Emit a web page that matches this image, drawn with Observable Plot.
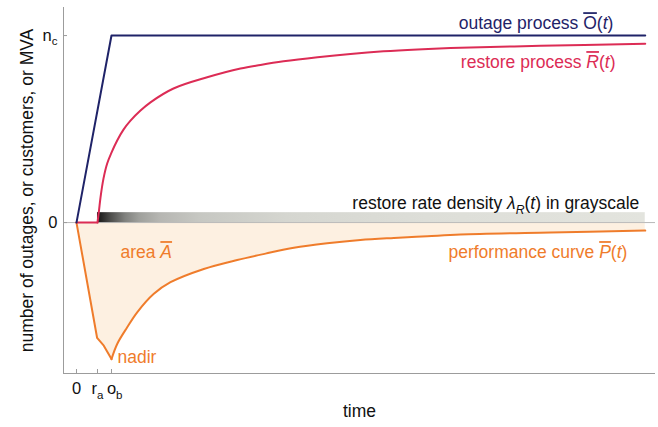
<!DOCTYPE html>
<html><head><meta charset="utf-8">
<script src="https://cdn.jsdelivr.net/npm/d3@7"></script>
<script src="https://cdn.jsdelivr.net/npm/@observablehq/plot@0.6"></script>
<style>body{margin:0;background:#fff}</style>
</head><body><div id="chart"></div>
<script>
// ---- data (time in units where o_b = 1; values in units of n_c) ----
const outageT = [0, 1, 16.25];
const outageV = [0, 1, 1];

const restoreFlatT = [0, 0.6];
const restoreFlatV = [0, 0];
const restoreT = [0.6, 0.643, 0.686, 0.771, 0.877, 1.0, 1.163, 1.343, 1.543, 1.829, 2.114, 2.771, 3.734, 4.686, 5.257, 5.914, 6.886, 7.829, 8.771, 9.743, 10.686, 13.257, 16.25];
const restoreV = [0, 0.064, 0.134, 0.235, 0.316, 0.374, 0.439, 0.497, 0.545, 0.599, 0.643, 0.717, 0.777, 0.824, 0.843, 0.862, 0.884, 0.902, 0.916, 0.926, 0.933, 0.945, 0.956];

const perfDropT = [0, 0.59, 0.78, 1];
const perfDropV = [0, -0.617, -0.658, -0.73];
const perfRecT = [1, 1.163, 1.449, 1.734, 2.21, 2.686, 3.637, 4.591, 5.4, 6.21, 7.16, 8.11, 9.07, 10.02, 10.97, 13.54, 16.25];
const perfRecV = [-0.73, -0.649, -0.56, -0.48, -0.381, -0.319, -0.248, -0.2, -0.166, -0.135, -0.111, -0.093, -0.082, -0.073, -0.064, -0.053, -0.043];

const lambdaT = [0.6, 0.75, 1.0, 1.4, 1.8, 2.4, 3.5, 6, 10, 16.25];
const lambdaV = [1, 0.9, 0.72, 0.48, 0.33, 0.22, 0.14, 0.07, 0.03, 0];

const xTickVals = [0, 0.6, 1];
const xTickLabels = ["0", "r_{a}", "o_{b}"];
const yTickVals = [0, 1];
const yTickLabels = ["0", "n_{c}"];

const labelOutage = "outage process ~{O}(*{t})";
const labelRestore = "restore process ~*{R}(*{t})";
const labelDensity = "restore rate density *{λ}*_{R}(*{t}) in grayscale";
const labelPerf = "performance curve ~*{P}(*{t})";
const labelArea = "area ~*{A}";
const labelNadir = "nadir";
const labelX = "time";
const labelY = "number of outages, or customers, or MVA";

// ---- tables ----
const zip = (T, V) => T.map((t, i) => ({t, v: V[i]}));
const outage = zip(outageT, outageV);
const restoreFlat = zip(restoreFlatT, restoreFlatV);
const restore = zip(restoreT, restoreV);
const perfDrop = zip(perfDropT, perfDropV);
const perfRec = zip(perfRecT, perfRecV);
const xLab = new Map(xTickVals.map((d, i) => [d, xTickLabels[i]]));
const yLab = new Map(yTickVals.map((d, i) => [d, yTickLabels[i]]));

const navy = "#1f2368", crimson = "#dc2c55", orange = "#ef7c2b", fillA = "#fdf0e1", axisGray = "#9c9c9c";
const xDomain = [-0.371, 16.543];
const yDomain = [-0.807, 1.15];

const plot = Plot.plot({
  width: 658, height: 427,
  marginLeft: 63, marginRight: 3, marginTop: 7, marginBottom: 54,
  x: {domain: xDomain, axis: null},
  y: {domain: yDomain, axis: null},
  style: {fontFamily: "'Liberation Sans', Arial, sans-serif", fontSize: "17.5px", background: "#fff", color: "#111"},
  marks: [
    Plot.areaY(perfDrop, {x: "t", y1: 0, y2: "v", fill: fillA, curve: "linear"}),
    Plot.areaY(perfRec, {x: "t", y1: 0, y2: "v", fill: fillA, curve: "catmull-rom"}),
    Plot.ruleY([0], {stroke: "#b8b8b8", strokeWidth: 1}),
    Plot.rect([{x1: lambdaT[0], x2: lambdaT[lambdaT.length - 1]}], {x1: "x1", x2: "x2", y1: 0, y2: 0.053, fill: "url(#lambdaGrad)"}),
    Plot.ruleX([xDomain[0]], {stroke: axisGray}),
    Plot.ruleY([yDomain[0]], {stroke: axisGray}),
    Plot.tickX(xTickVals, {x: d => d, stroke: axisGray, insetTop: 362}),
    Plot.tickY(yTickVals, {y: d => d, stroke: axisGray, insetRight: 588}),
    Plot.axisX({ticks: xTickVals, tickFormat: d => xLab.get(d), tickSize: 0, tickPadding: 9, label: null, fontSize: "16.5px"}),
    Plot.axisY({ticks: yTickVals, tickFormat: d => yLab.get(d), tickSize: 0, tickPadding: 6, label: null, fontSize: "16.5px"}),
    Plot.line(perfDrop, {x: "t", y: "v", stroke: orange, strokeWidth: 2, curve: "linear"}),
    Plot.line(perfRec, {x: "t", y: "v", stroke: orange, strokeWidth: 2, curve: "catmull-rom"}),
    Plot.line(restoreFlat, {x: "t", y: "v", stroke: crimson, strokeWidth: 2}),
    Plot.line(restore, {x: "t", y: "v", stroke: crimson, strokeWidth: 2, curve: "catmull-rom"}),
    Plot.line(outage, {x: "t", y: "v", stroke: navy, strokeWidth: 2}),
    Plot.text([labelOutage], {x: 15.34, y: 1.064, textAnchor: "end", fill: navy}),
    Plot.text([labelRestore], {x: 15.4, y: 0.856, textAnchor: "end", fill: crimson}),
    Plot.text([labelDensity], {x: 16.08, y: 0.102, textAnchor: "end", fill: "#111"}),
    Plot.text([labelPerf], {x: 15.74, y: -0.16, textAnchor: "end", fill: orange}),
    Plot.text([labelArea], {x: 1.257, y: -0.16, textAnchor: "start", fill: orange}),
    Plot.text([labelNadir], {x: 1.171, y: -0.722, textAnchor: "start", fill: orange}),
    Plot.text([labelX], {frameAnchor: "bottom", dy: 43, fill: "#111"}),
    Plot.text([labelY], {frameAnchor: "left", textAnchor: "middle", rotate: -90, dx: -36, fill: "#111"})
  ]
});
document.getElementById("chart").appendChild(plot);

// gradient for the restore rate density
const gray = d3.interpolateRgb("#e3e4de", "#151515");
const t0 = lambdaT[0], t1 = lambdaT[lambdaT.length - 1];
const grad = d3.select(plot).insert("defs", ":first-child")
  .append("linearGradient").attr("id", "lambdaGrad")
  .attr("x1", 0).attr("x2", 1).attr("y1", 0).attr("y2", 0);
lambdaT.forEach((t, i) => grad.append("stop").attr("offset", (t - t0) / (t1 - t0)).attr("stop-color", gray(lambdaV[i])));

// rich text: ~{..} overline, *{..} italic, _{..} subscript
function richify(svg) {
  svg.querySelectorAll("text").forEach(t => {
    const tsp = t.querySelectorAll("tspan");
    const targets = tsp.length ? Array.from(tsp) : [t];
    targets.forEach(node => {
      const s = node.textContent;
      if (!/[~*_]\{/.test(s)) return;
      const fs = parseFloat(getComputedStyle(node).fontSize) || 17.5;
      node.textContent = "";
      const re = /([~*_]+)\{([^}]*)\}|([^~*_]+)/g;
      let m, shift = 0;
      while ((m = re.exec(s))) {
        const ts = document.createElementNS("http://www.w3.org/2000/svg", "tspan");
        const flags = m[1] || "";
        ts.textContent = m[1] ? m[2] : m[3];
        if (flags.includes("*")) ts.setAttribute("font-style", "italic");
        if (flags.includes("~")) ts.setAttribute("style", "text-decoration: overline");
        const sub = flags.includes("_");
        if (sub) ts.setAttribute("font-size", fs * 0.7);
        const want = sub ? fs * 0.28 : 0;
        if (want !== shift) { ts.setAttribute("dy", want - shift); shift = want; }
        node.appendChild(ts);
      }
    });
  });
}
richify(plot);

// last x tick label: main letter centered on its tick, subscript hanging right
const xTexts = plot.querySelectorAll('g[aria-label="x-axis tick label"] text');
const lastText = xTexts[xTexts.length - 1];
if (lastText && lastText.querySelector("tspan")) {
  const w = lastText.querySelector("tspan").getComputedTextLength();
  lastText.setAttribute("text-anchor", "start");
  lastText.setAttribute("dx", -w / 2);
}
</script>
</body></html>
